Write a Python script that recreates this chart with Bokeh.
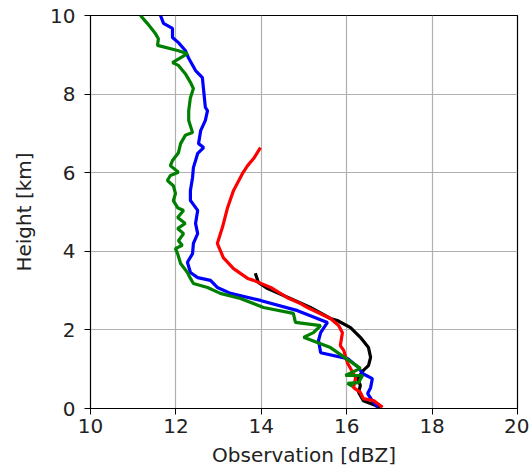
from bokeh.plotting import figure
from bokeh.models import Range1d, FixedTicker
from bokeh.embed import file_html
from bokeh.resources import INLINE

# Observation profiles (dBZ) vs height (km)
blue_x = [11.64, 11.71, 11.92, 11.92, 12.06, 12.22, 12.30, 12.46, 12.62, 12.65, 12.69, 12.74, 12.69,
          12.58, 12.53, 12.65, 12.51, 12.41, 12.39, 12.34, 12.34, 12.39, 12.51, 12.46, 12.51, 12.41,
          12.39, 12.27, 12.34, 12.51, 12.81, 12.97, 13.28, 13.98, 14.85, 15.55, 15.39, 15.34, 15.39,
          16.02, 16.28, 16.37, 16.60, 16.56, 16.49, 16.60, 16.72]
blue_y = [10.0, 9.80, 9.67, 9.44, 9.31, 9.11, 8.91, 8.60, 8.42, 8.09, 7.66, 7.58, 7.33,
          7.07, 6.74, 6.64, 6.49, 6.13, 5.88, 5.55, 5.29, 5.22, 5.04, 4.71, 4.45, 4.20,
          3.94, 3.72, 3.46, 3.33, 3.26, 3.08, 2.93, 2.75, 2.49, 2.19, 1.93, 1.73, 1.42,
          1.27, 1.04, 0.89, 0.76, 0.53, 0.38, 0.20, 0.03]

green_x = [11.17, 11.33, 11.52, 11.59, 11.57, 12.04, 12.27, 11.92, 12.06, 12.22, 12.34, 12.41, 12.34,
           12.30, 12.30, 12.39, 12.22, 12.11, 12.06, 11.92, 11.87, 12.06, 11.87, 11.80, 11.94, 11.99,
           11.94, 12.04, 12.18, 12.04, 12.22, 12.04, 12.18, 12.06, 12.15, 11.99, 12.04, 12.11, 12.27,
           12.34, 12.41, 12.74, 13.04, 13.51, 14.05, 14.75, 14.80, 15.39, 15.22, 14.99, 15.62, 16.32,
           15.97, 16.37, 16.28, 16.02, 16.14]
green_y = [10.0, 9.80, 9.54, 9.41, 9.24, 9.11, 9.03, 8.80, 8.73, 8.52, 8.30, 8.14, 7.91,
           7.58, 7.33, 7.02, 6.95, 6.74, 6.51, 6.31, 6.18, 6.01, 5.93, 5.80, 5.67, 5.47,
           5.29, 5.11, 5.04, 4.86, 4.71, 4.58, 4.45, 4.27, 4.15, 4.07, 3.94, 3.69, 3.46,
           3.31, 3.18, 3.08, 2.93, 2.80, 2.57, 2.42, 2.19, 2.11, 1.93, 1.81, 1.55, 1.02,
           0.84, 0.84, 0.66, 0.64, 0.56]

red_x = [13.98, 13.82, 13.68, 13.56, 13.35, 13.21, 13.09, 12.97, 13.11, 13.35, 13.68, 13.82, 14.22,
         14.61, 14.92, 15.08, 15.62, 15.81, 15.90, 15.85, 15.93, 16.02, 16.21, 16.16, 16.32, 16.39,
         16.63, 16.84]
red_y = [6.64, 6.36, 6.18, 5.98, 5.55, 5.11, 4.61, 4.20, 3.84, 3.56, 3.31, 3.26, 3.08,
         2.82, 2.67, 2.57, 2.29, 2.11, 1.93, 1.60, 1.48, 1.15, 0.79, 0.53, 0.41, 0.25,
         0.20, 0.03]

black_x = [13.86, 13.93, 14.15, 14.68, 15.15, 15.62, 15.78, 16.09, 16.32, 16.51, 16.56, 16.51, 16.39,
           16.25, 16.32, 16.28, 16.39, 16.79]
black_y = [3.44, 3.21, 3.05, 2.80, 2.57, 2.29, 2.24, 2.06, 1.81, 1.55, 1.30, 1.09, 0.97,
           0.76, 0.59, 0.41, 0.20, 0.03]

x_ticks = [10, 12, 14, 16, 18, 20]
y_ticks = [0, 2, 4, 6, 8, 10]

p = figure(width=529, height=472, output_backend="svg", toolbar_location=None,
           x_range=Range1d(10, 20), y_range=Range1d(0, 10),
           min_border_left=90, min_border_right=12, min_border_top=15, min_border_bottom=64)

p.line(black_x, black_y, line_color="#000000", line_width=3.2)
p.line(blue_x, blue_y, line_color="#0000ff", line_width=3.2)
p.line(red_x, red_y, line_color="#ff0000", line_width=3.2)
p.line(green_x, green_y, line_color="#008000", line_width=3.2)

p.xaxis.ticker = FixedTicker(ticks=x_ticks)
p.yaxis.ticker = FixedTicker(ticks=y_ticks)
p.xaxis.axis_label = "Observation [dBZ]"
p.yaxis.axis_label = "Height [km]"

for ax in (p.xaxis, p.yaxis):
    ax.axis_label_text_font = "DejaVu Sans"
    ax.axis_label_text_font_size = "20px"
    ax.axis_label_text_font_style = "normal"
    ax.axis_label_text_color = "#222222"
    ax.major_label_text_font = "DejaVu Sans"
    ax.major_label_text_font_size = "20px"
    ax.major_label_text_color = "#222222"
    ax.axis_line_color = "black"
    ax.major_tick_line_color = "black"
    ax.major_tick_out = 6
    ax.major_tick_in = 0
    ax.minor_tick_line_color = None

p.xaxis.major_label_standoff = 4
p.xaxis.axis_label_standoff = 7
p.yaxis.major_label_standoff = 9
p.yaxis.axis_label_standoff = 11

p.grid.grid_line_color = "#b0b0b0"
p.grid.grid_line_width = 1.2
p.outline_line_color = "black"
p.outline_line_width = 1.2
p.background_fill_color = "white"
p.border_fill_color = "white"

open("out.html", "w").write(file_html(p, INLINE))
